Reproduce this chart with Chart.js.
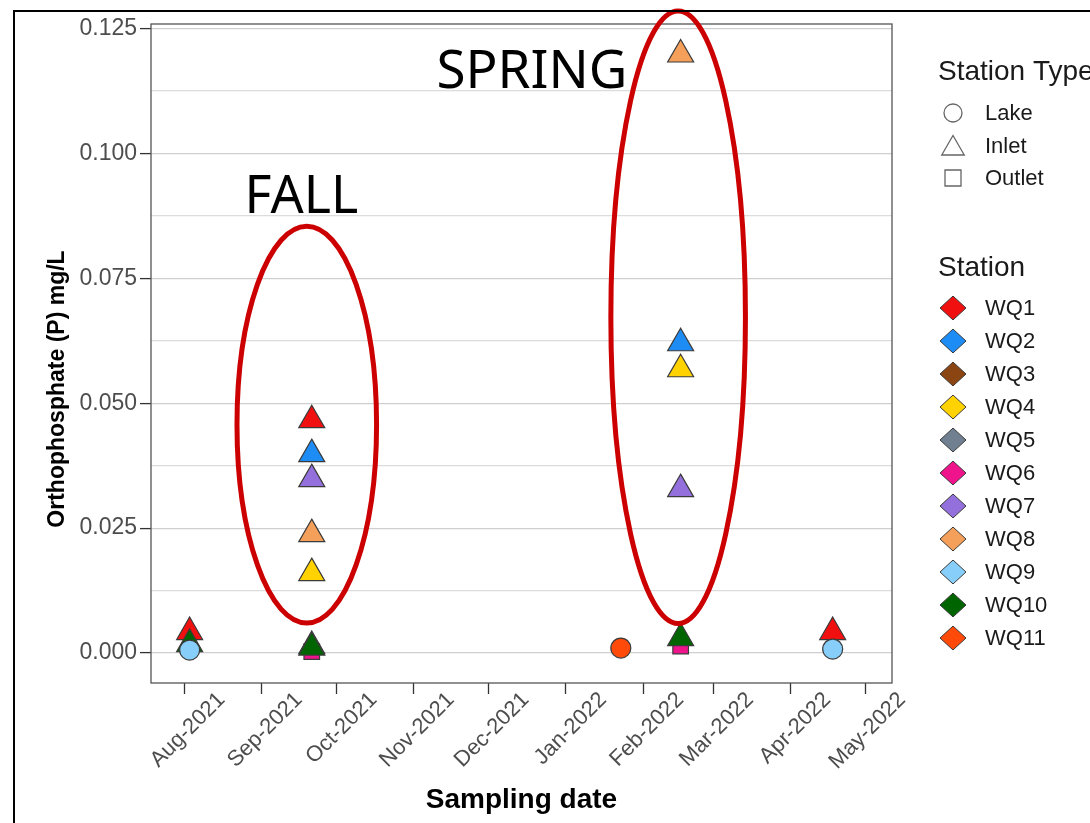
<!DOCTYPE html>
<html>
<head>
<meta charset="utf-8">
<script src="https://cdn.jsdelivr.net/npm/chart.js@4.4.0/dist/chart.umd.min.js"></script>
<style>
  html, body { margin: 0; padding: 0; background: #fff; }
  #wrap { width: 1090px; height: 823px; }
</style>
</head>
<body>
<div id="wrap"><canvas id="chart" width="1090" height="823"></canvas></div>
<script>
// stations
const stations = ['WQ1', 'WQ2', 'WQ3', 'WQ4', 'WQ5', 'WQ6', 'WQ7', 'WQ8', 'WQ9', 'WQ10', 'WQ11'];
const stationColors = ['#f01010', '#1e8cf5', '#8b4513', '#ffd200', '#708090', '#f0148c', '#9370db', '#f4a05a', '#87cefa', '#006400', '#ff4a0a'];
const stationTypes = ['Inlet', 'Inlet', 'Inlet', 'Inlet', 'Inlet', 'Outlet', 'Inlet', 'Inlet', 'Lake', 'Inlet', 'Lake'];
const typeNames = ['Lake', 'Inlet', 'Outlet'];

// samples
const sampleDates = [
  '2021-08-03', '2021-08-03', '2021-08-03',
  '2021-09-21', '2021-09-21', '2021-09-21', '2021-09-21', '2021-09-21',
  '2021-09-21', '2021-09-21', '2021-09-21',
  '2022-01-23',
  '2022-02-16', '2022-02-16', '2022-02-16', '2022-02-16', '2022-02-16', '2022-02-16',
  '2022-04-18', '2022-04-18'
];
const sampleStations = [
  'WQ1', 'WQ10', 'WQ9',
  'WQ1', 'WQ2', 'WQ7', 'WQ8', 'WQ4',
  'WQ5', 'WQ6', 'WQ10',
  'WQ11',
  'WQ8', 'WQ2', 'WQ4', 'WQ7', 'WQ6', 'WQ10',
  'WQ1', 'WQ9'
];
const sampleValues = [
  0.0042, 0.0018, 0.0006,
  0.0466, 0.0398, 0.0348, 0.0238, 0.0160,
  0.0014, 0.0003, 0.0011,
  0.0010,
  0.1198, 0.0620, 0.0568, 0.0328, 0.0014, 0.0030,
  0.0042, 0.0008
];

// axis ticks
const monthTicks = ['2021-08-01', '2021-09-01', '2021-10-01', '2021-11-01', '2021-12-01',
  '2022-01-01', '2022-02-01', '2022-03-01', '2022-04-01', '2022-05-01'];
const monthLabels = ['Aug-2021', 'Sep-2021', 'Oct-2021', 'Nov-2021', 'Dec-2021',
  'Jan-2022', 'Feb-2022', 'Mar-2022', 'Apr-2022', 'May-2022'];
const yMajorTicks = [0, 0.025, 0.05, 0.075, 0.1, 0.125];
const yTickLabels = ['0.000', '0.025', '0.050', '0.075', '0.100', '0.125'];
const yMinorTicks = [0.0125, 0.0375, 0.0625, 0.0875, 0.1125];

// season annotations
const seasonNames = ['FALL', 'SPRING'];
const seasonCenterDates = ['2021-09-19', '2022-02-15'];
const seasonHalfDays = [28, 27];
const seasonCenterValues = [0.0457, 0.0672];
const seasonHalfValues = [0.0397, 0.0613];
const seasonTextDates = ['2021-08-25', '2021-11-10'];
const seasonTextValues = [0.0881, 0.1131];

const yTitle = 'Orthophosphate (P) mg/L';

function toDay(s) {
  const p = s.split('-').map(Number);
  return Date.UTC(p[0], p[1] - 1, p[2]) / 86400000;
}

const axisFont = 'Liberation Sans, Arial, sans-serif';
const shapeOf = { Lake: 'circle', Inlet: 'triangle', Outlet: 'rect' };
const radiusOf = { Lake: 10, Inlet: 15, Outlet: 11 };

let datasets = stations.map((st, i) => {
  let pts = [];
  sampleStations.forEach((s, j) => {
    if (s === st) pts.push({ x: toDay(sampleDates[j]), y: sampleValues[j] });
  });
  let type = stationTypes[i];
  return {
    label: st,
    data: pts,
    backgroundColor: stationColors[i],
    borderColor: '#3a3a3a',
    borderWidth: 1.2,
    pointStyle: shapeOf[type],
    pointRadius: radiusOf[type],
    pointHoverRadius: radiusOf[type],
    order: type === 'Lake' ? -1 : 11 - i
  };
});

const allYTicks = yMajorTicks.concat(yMinorTicks).sort((a, b) => a - b);

function drawShape(ctx, style, x, y, r) {
  ctx.beginPath();
  if (style === 'circle') {
    ctx.arc(x, y, r, 0, Math.PI * 2);
  } else if (style === 'triangle') {
    ctx.moveTo(x, y - r);
    ctx.lineTo(x + r * Math.sin(Math.PI * 2 / 3), y + r / 2);
    ctx.lineTo(x - r * Math.sin(Math.PI * 2 / 3), y + r / 2);
    ctx.closePath();
  } else if (style === 'rect') {
    ctx.rect(x - r, y - r, 2 * r, 2 * r);
  } else if (style === 'diamond') {
    ctx.moveTo(x, y - r * 0.92);
    ctx.lineTo(x + r, y);
    ctx.lineTo(x, y + r * 0.92);
    ctx.lineTo(x - r, y);
    ctx.closePath();
  }
}

const decor = {
  id: 'decor',
  afterDatasetsDraw(chart) {
    const ctx = chart.ctx;
    const a = chart.chartArea;
    const xs = chart.scales.x, ys = chart.scales.y;
    ctx.save();
    // panel border
    ctx.strokeStyle = '#555';
    ctx.lineWidth = 1.3;
    ctx.strokeRect(a.left, a.top, a.right - a.left, a.bottom - a.top);

    // season ellipses and labels
    seasonNames.forEach((name, i) => {
      const cx = xs.getPixelForValue(toDay(seasonCenterDates[i]));
      const cy = ys.getPixelForValue(seasonCenterValues[i]);
      const rx = Math.abs(xs.getPixelForValue(toDay(seasonCenterDates[i]) + seasonHalfDays[i]) - cx);
      const ry = Math.abs(ys.getPixelForValue(seasonCenterValues[i] + seasonHalfValues[i]) - cy);
      ctx.beginPath();
      ctx.ellipse(cx, cy, rx, ry, 0, 0, Math.PI * 2);
      ctx.strokeStyle = '#cc0000';
      ctx.lineWidth = 5;
      ctx.stroke();

      ctx.fillStyle = '#000';
      ctx.font = (i === 0 ? '52px' : '53px') + ' "Noto Sans", sans-serif';
      ctx.textAlign = 'left';
      ctx.textBaseline = 'alphabetic';
      ctx.fillText(name, xs.getPixelForValue(toDay(seasonTextDates[i])), ys.getPixelForValue(seasonTextValues[i]));
    });
    ctx.restore();
  },
  afterDraw(chart) {
    const ctx = chart.ctx;
    ctx.save();
    // outer frame
    ctx.strokeStyle = '#000';
    ctx.lineWidth = 2;
    ctx.beginPath();
    ctx.moveTo(14, 830);
    ctx.lineTo(14, 11);
    ctx.lineTo(1100, 11);
    ctx.stroke();

    // y axis title
    ctx.save();
    ctx.translate(58, 389);
    ctx.rotate(-Math.PI / 2);
    ctx.fillStyle = '#000';
    ctx.font = 'bold 23px ' + axisFont;
    ctx.textAlign = 'center';
    ctx.textBaseline = 'middle';
    ctx.fillText(yTitle, 0, 0);
    ctx.restore();

    // legend: station type
    ctx.fillStyle = '#1a1a1a';
    ctx.textAlign = 'left';
    ctx.textBaseline = 'alphabetic';
    ctx.font = '28px ' + axisFont;
    ctx.fillText('Station Type', 938, 80);
    ctx.font = '22px ' + axisFont;
    ctx.textBaseline = 'middle';
    typeNames.forEach((t, i) => {
      const y = 113 + i * 32.5;
      ctx.strokeStyle = '#666';
      ctx.lineWidth = 1.3;
      const r = t === 'Lake' ? 9 : (t === 'Inlet' ? 13 : 8);
      drawShape(ctx, shapeOf[t], 953, t === 'Inlet' ? y + 3 : y, r);
      ctx.stroke();
      ctx.fillStyle = '#1a1a1a';
      ctx.fillText(t, 985, y + 1);
    });

    // legend: station
    ctx.textBaseline = 'alphabetic';
    ctx.font = '28px ' + axisFont;
    ctx.fillText('Station', 938, 276);
    ctx.font = '22px ' + axisFont;
    ctx.textBaseline = 'middle';
    stations.forEach((s, i) => {
      const y = 308 + i * 33;
      drawShape(ctx, 'diamond', 953, y, 13);
      ctx.fillStyle = stationColors[i];
      ctx.fill();
      ctx.strokeStyle = '#3a3a3a';
      ctx.lineWidth = 1;
      ctx.stroke();
      ctx.fillStyle = '#1a1a1a';
      ctx.fillText(s, 985, y + 1);
    });
    ctx.restore();
  }
};

new Chart(document.getElementById('chart'), {
  type: 'scatter',
  data: { datasets: datasets },
  options: {
    responsive: false,
    animation: false,
    layout: { padding: { left: 45, right: 198, top: 24, bottom: 6 } },
    plugins: { legend: { display: false }, tooltip: { enabled: false } },
    scales: {
      x: {
        type: 'linear',
        min: toDay('2021-08-01') - 13.5,
        max: toDay('2022-05-01') + 10.8,
        afterBuildTicks: (scale) => { scale.ticks = monthTicks.map(d => ({ value: toDay(d) })); },
        afterFit: (scale) => { scale.height = 134; },
        border: { display: false },
        grid: { drawOnChartArea: false, drawTicks: true, tickLength: 11, tickColor: '#333', tickWidth: 1.3 },
        ticks: {
          autoSkip: false,
          maxRotation: 45,
          minRotation: 45,
          labelOffset: 37,
          padding: -7,
          color: '#4d4d4d',
          font: { family: axisFont, size: 22 },
          callback: (v, i) => monthLabels[i]
        },
        title: {
          display: true,
          text: 'Sampling date',
          color: '#000',
          padding: 0,
          font: { family: axisFont, size: 28, weight: 'bold' }
        }
      },
      y: {
        min: -0.006,
        max: 0.1259,
        afterBuildTicks: (scale) => { scale.ticks = allYTicks.map(v => ({ value: v })); },
        afterFit: (scale) => { scale.width = 106; },
        border: { display: false },
        grid: {
          color: (c) => yMajorTicks.includes(c.tick.value) ? '#cfcfcf' : '#dcdcdc',
          lineWidth: 1.2,
          tickLength: 11,
          tickColor: (c) => yMajorTicks.includes(c.tick.value) ? '#333' : 'rgba(0,0,0,0)',
          tickWidth: 1.3
        },
        ticks: {
          padding: 3,
          color: '#4d4d4d',
          font: { family: axisFont, size: 23 },
          callback: (v) => {
            const k = yMajorTicks.indexOf(v);
            return k >= 0 ? yTickLabels[k] : '';
          }
        },
        title: { display: false }
      }
    }
  },
  plugins: [decor]
});
</script>
</body>
</html>
